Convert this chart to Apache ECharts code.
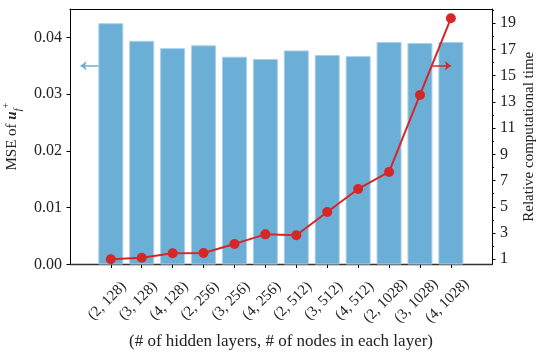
<!DOCTYPE html>
<html>
<head>
<meta charset="utf-8">
<script src="https://cdn.jsdelivr.net/npm/echarts@6/dist/echarts.min.js"></script>
<style>
  html, body { margin: 0; padding: 0; background: #fff; }
  #chart { width: 545px; height: 358px; }
</style>
</head>
<body>
<div id="chart"></div>
<script>
const categories = ["(2, 128)", "(3, 128)", "(4, 128)", "(2, 256)", "(3, 256)", "(4, 256)",
  "(2, 512)", "(3, 512)", "(4, 512)", "(2, 1028)", "(3, 1028)", "(4, 1028)"];
const mseValues = [0.0425, 0.0394, 0.0381, 0.0386, 0.0366, 0.0362,
  0.0377, 0.0369, 0.0367, 0.0392, 0.0390, 0.0392];
const timeValues = [1.0, 1.12, 1.46, 1.48, 2.17, 2.9, 2.83, 4.6, 6.36, 7.66, 13.53, 19.38];
const mseTicks = [0, 0.01, 0.02, 0.03, 0.04];
const timeTicks = [1, 3, 5, 7, 9, 11, 13, 15, 17, 19];
const timeMinorTicks = [2, 4, 6, 8, 10, 12, 14, 16, 18, 20];

const FONT = "Liberation Serif";
const BLUE = "#6baed6";
const RED = "#d62728";
const idx = categories.map((_, i) => i);

const chart = echarts.init(document.getElementById("chart"), null, { renderer: "canvas" });

const option = {
  animation: false,
  textStyle: { fontFamily: FONT },
  grid: { left: 70, right: 53, top: 9, bottom: 93.5, outerBoundsMode: "none", containLabel: false },
  xAxis: [
    {
      type: "value",
      min: -1.32,
      max: 12.33,
      splitLine: { show: false },
      axisLine: { onZero: false, lineStyle: { color: "#333", width: 1.3 } },
      axisTick: { customValues: idx, length: 3.5, lineStyle: { color: "#000" } },
      axisLabel: {
        customValues: idx,
        formatter: (v) => categories[Math.round(v)],
        rotate: 45,
        align: "center",
        verticalAlign: "middle",
        margin: 33,
        padding: [0, 10, 0, 0],
        fontSize: 15,
        color: "#222",
        fontFamily: FONT
      },
      name: "(# of hidden layers, # of nodes in each layer)",
      nameLocation: "middle",
      nameGap: 68,
      nameTextStyle: { fontSize: 17, color: "#222", fontFamily: FONT }
    },
    {
      type: "value",
      position: "top",
      min: -1.32,
      max: 12.33,
      splitLine: { show: false },
      axisLine: { show: true, onZero: false, lineStyle: { color: "#000", width: 1 } },
      axisTick: { show: false },
      axisLabel: { show: false }
    }
  ],
  yAxis: [
    {
      type: "value",
      min: 0,
      max: 0.045,
      splitLine: { show: false },
      axisLine: { show: true, onZero: false, lineStyle: { color: "#000" } },
      axisTick: { show: true, customValues: mseTicks, length: 3.5, lineStyle: { color: "#000" } },
      axisLabel: {
        customValues: mseTicks,
        formatter: (v) => v.toFixed(2),
        margin: 8,
        fontSize: 16,
        color: "#222",
        fontFamily: FONT
      },
      name: "{n|MSE of }{u|u}{sub|f}{sup|+}",
      nameLocation: "middle",
      nameRotate: 90,
      nameGap: 46,
      nameTextStyle: {
        fontSize: 15,
        color: "#222",
        fontFamily: FONT,
        rich: {
          n: { fontSize: 15, fontFamily: FONT, color: "#222", lineHeight: 22 },
          u: { fontSize: 15, fontFamily: FONT, color: "#222", fontWeight: "bold", fontStyle: "italic" },
          sub: { fontSize: 10, fontFamily: FONT, color: "#222", fontStyle: "italic", verticalAlign: "bottom" },
          sup: { fontSize: 10, fontFamily: FONT, color: "#222", verticalAlign: "top" }
        }
      }
    },
    {
      type: "value",
      position: "right",
      min: 0.6,
      max: 20.09,
      splitLine: { show: false },
      axisLine: { show: true, onZero: false, lineStyle: { color: "#000" } },
      axisTick: { show: true, customValues: timeTicks, length: 3.5, lineStyle: { color: "#000" } },
      axisLabel: {
        customValues: timeTicks,
        margin: 8,
        fontSize: 16,
        color: "#222",
        fontFamily: FONT
      },
      name: "Relative computational time",
      nameLocation: "middle",
      nameRotate: 90,
      nameMoveOverlap: false,
      nameGap: 30,
      nameTextStyle: { fontSize: 15, color: "#222", fontFamily: FONT }
    },
    {
      type: "value",
      position: "right",
      min: 0.6,
      max: 20.09,
      splitLine: { show: false },
      axisLine: { show: false, onZero: false },
      axisTick: { show: true, customValues: timeMinorTicks, length: 2, lineStyle: { color: "#000" } },
      axisLabel: { show: false }
    }
  ],
  series: [
    {
      type: "bar",
      yAxisIndex: 0,
      barWidth: 25,
      itemStyle: { color: BLUE, borderColor: "#a9d0ea", borderWidth: 1 },
      data: mseValues.map((v, i) => [i, v]),
      markLine: {
        silent: true,
        symbolSize: [7, 6],
        label: { show: false },
        data: [
          [
            { coord: [-0.4, 0.035], symbol: "none", lineStyle: { color: BLUE, width: 1.5, type: "solid" } },
            { coord: [-0.98, 0.035], symbol: "arrow" }
          ],
          [
            { coord: [10.4, 0.035], symbol: "none", lineStyle: { color: RED, width: 1.5, type: "solid" } },
            { coord: [11.0, 0.035], symbol: "arrow" }
          ]
        ]
      }
    },
    {
      type: "line",
      yAxisIndex: 1,
      z: 5,
      symbol: "circle",
      symbolSize: 10,
      lineStyle: { color: RED, width: 2 },
      itemStyle: { color: RED },
      data: timeValues.map((v, i) => [i, v])
    }
  ]
};

chart.setOption(option);
</script>
</body>
</html>
